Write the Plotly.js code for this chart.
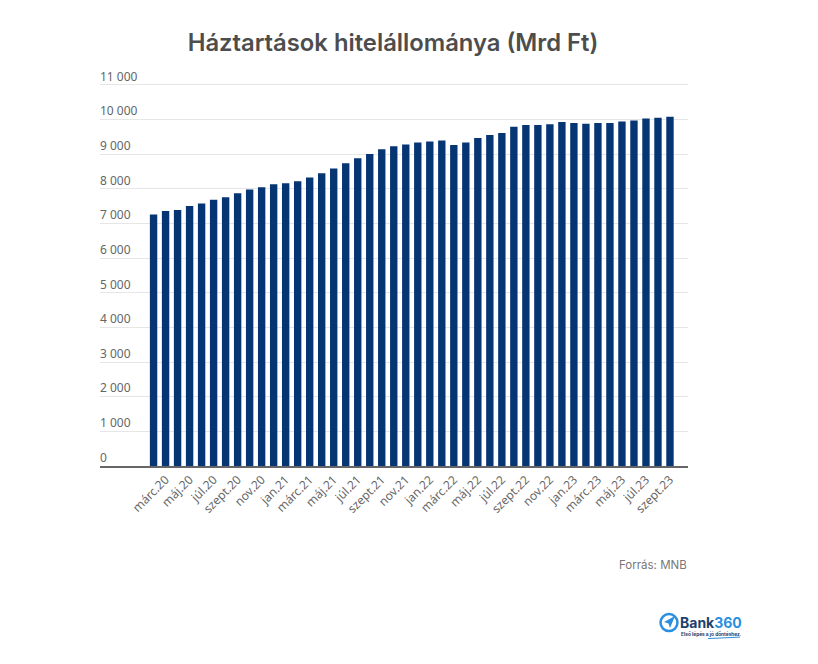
<!DOCTYPE html>
<html>
<head>
<meta charset="utf-8">
<script src="https://cdn.plot.ly/plotly-3.0.1.min.js"></script>
<style>
  html, body { margin: 0; padding: 0; background: #fff; }
</style>
</head>
<body>
<div id="chart" style="width:818px;height:664px"></div>
<script>
var months = [
  'márc.20','ápr.20','máj.20','jún.20','júl.20','aug.20','szept.20','okt.20','nov.20','dec.20',
  'jan.21','febr.21','márc.21','ápr.21','máj.21','jún.21','júl.21','aug.21','szept.21','okt.21','nov.21','dec.21',
  'jan.22','febr.22','márc.22','ápr.22','máj.22','jún.22','júl.22','aug.22','szept.22','okt.22','nov.22','dec.22',
  'jan.23','febr.23','márc.23','ápr.23','máj.23','jún.23','júl.23','aug.23','szept.23','okt.23'
];
var loans = [
  7259, 7355, 7384, 7499, 7575, 7681, 7758, 7873, 7978, 8046,
  8132, 8161, 8218, 8324, 8448, 8583, 8736, 8880, 9005, 9139, 9225, 9276,
  9337, 9365, 9394, 9260, 9337, 9462, 9548, 9606, 9789, 9837, 9837, 9865,
  9923, 9894, 9875, 9894, 9894, 9942, 9971, 10029, 10048, 10077
];
var xTicks = [
  'márc.20','máj.20','júl.20','szept.20','nov.20','jan.21','márc.21','máj.21','júl.21','szept.21','nov.21',
  'jan.22','márc.22','máj.22','júl.22','szept.22','nov.22','jan.23','márc.23','máj.23','júl.23','szept.23'
];
var yTicks = [0, 1000, 2000, 3000, 4000, 5000, 6000, 7000, 8000, 9000, 10000, 11000];
var yLabels = ['0', '1 000', '2 000', '3 000', '4 000', '5 000', '6 000', '7 000', '8 000', '9 000', '10 000', '11 000'];

var W = 818, H = 664;
// axis runs a bit past 11 000 so the top label stays visible
var yMax = 11600;
var m = { l: 100, r: 130, t: 64.2, b: 198 };
// pixel position -> paper fraction, only for the source note and logo
function px(x) { return (x - m.l) / (W - m.l - m.r); }
function py(y) { return 1 - (y - m.t) / (H - m.t - m.b); }

var trace = {
  type: 'bar',
  x: months,
  y: loans,
  marker: { color: '#063573' },
  hoverinfo: 'x+y'
};

var layout = {
  width: W,
  height: H,
  margin: m,
  paper_bgcolor: '#fff',
  plot_bgcolor: '#fff',
  showlegend: false,
  bargap: 0.385,
  title: {
    text: 'Háztartások hitelállománya (Mrd Ft)',
    font: { family: 'Inter, sans-serif', size: 23.8, weight: 600, color: '#4d4d4d' },
    x: 393 / W,
    xanchor: 'center',
    y: 1 - 43 / H,
    yanchor: 'middle'
  },
  xaxis: {
    type: 'category',
    categoryorder: 'array',
    categoryarray: months,
    range: [-4.46, 44.5],
    tickmode: 'array',
    tickvals: xTicks,
    ticktext: xTicks,
    tickangle: -45,
    ticklen: 0,
    ticks: '',
    ticklabelshift: 12,
    ticklabelstandoff: 0,
    tickfont: { family: 'Noto Sans, sans-serif', size: 12, color: '#666' },
    showgrid: false,
    showline: true,
    linecolor: '#666',
    linewidth: 2,
    zeroline: false
  },
  yaxis: {
    range: [0, yMax],
    tickmode: 'array',
    tickvals: yTicks,
    ticktext: yLabels,
    ticklabelposition: 'inside top',
    ticklabelstandoff: -3,
    ticks: '',
    tickfont: { family: 'Noto Sans, sans-serif', size: 12, color: '#666' },
    gridcolor: '#e6e6e6',
    gridwidth: 1,
    zeroline: false,
    showline: false
  },
  shapes: [
    // logo mark
    { type: 'circle', xref: 'paper', yref: 'paper', x0: px(660.5), x1: px(677.5), y0: py(631), y1: py(614),
      line: { color: '#2a8fe0', width: 2.5 }, fillcolor: 'rgba(0,0,0,0)' },
    { type: 'path', xref: 'paper', yref: 'paper', line: { width: 0 }, fillcolor: '#2a8fe0',
      path: 'M' + px(675) + ',' + py(616) + ' L' + px(664) + ',' + py(622) + ' L' + px(668.5) + ',' + py(623.5) +
            ' L' + px(670) + ',' + py(628) + ' Z' },
    { type: 'line', xref: 'paper', yref: 'paper', x0: px(708), x1: px(740), y0: py(638.5), y1: py(637),
      line: { color: '#2a8fe0', width: 1 } }
  ],
  annotations: [
    { text: 'Forrás: MNB', xref: 'paper', yref: 'paper', x: px(688.5), y: py(565), xanchor: 'right', yanchor: 'middle',
      showarrow: false, font: { family: 'Inter, sans-serif', size: 11.5, color: '#777' } },
    { text: '<b>Bank</b><b><span style="color:#2a8fe0">360</span></b>', xref: 'paper', yref: 'paper', x: px(677.5), y: py(622),
      xanchor: 'left', yanchor: 'middle', showarrow: false,
      font: { family: 'Inter, sans-serif', size: 14, color: '#1d3f6e' } },
    { text: '<b>Első lépés a jó döntéshez.</b>', xref: 'paper', yref: 'paper', x: px(678.5), y: py(633.5),
      xanchor: 'left', yanchor: 'middle', showarrow: false,
      font: { family: 'Inter, sans-serif', size: 4.8, color: '#1d3f6e' } }
  ]
};

Plotly.newPlot('chart', [trace], layout, { displayModeBar: false, responsive: false });
</script>
</body>
</html>
